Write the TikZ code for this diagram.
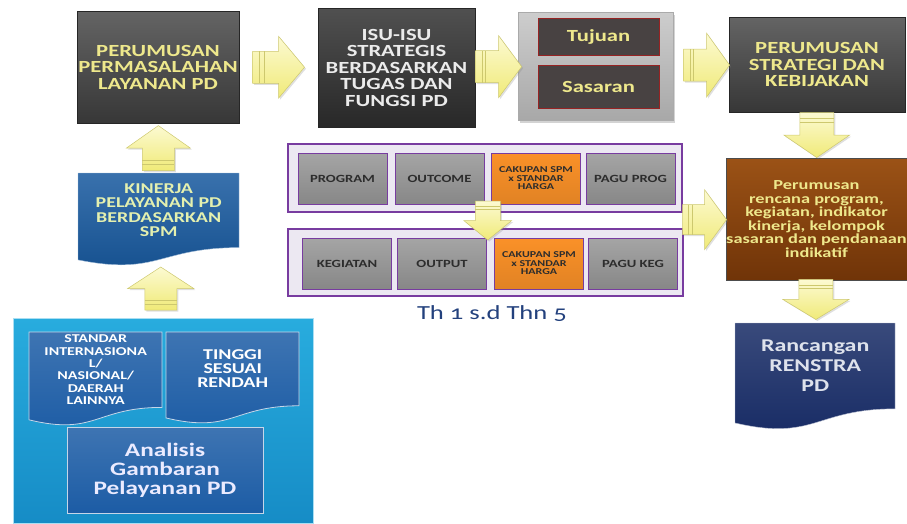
\documentclass[tikz,border=0pt]{standalone}
\usepackage{fontspec}
\setmainfont{Carlito}[FakeStretch=1.33]
\usetikzlibrary{calc,shadows}
\definecolor{ytext}{RGB}{238,232,140}
\definecolor{btext}{RGB}{235,235,235}
\definecolor{gtext}{RGB}{228,240,175}
\definecolor{ftext}{RGB}{222,226,236}
\definecolor{arrowY}{RGB}{240,234,120}
\definecolor{arrowL}{RGB}{252,250,210}
\definecolor{arrowD}{RGB}{205,200,110}
\definecolor{brownT}{RGB}{155,82,22}
\definecolor{brownB}{RGB}{112,52,8}
\definecolor{navy}{RGB}{22,42,100}
\definecolor{gblue}{RGB}{22,88,158}
\definecolor{cyanT}{RGB}{40,172,222}
\definecolor{cyanB}{RGB}{22,140,198}
\definecolor{docblue}{RGB}{28,92,165}
\definecolor{purp}{RGB}{120,60,160}
\definecolor{orng}{RGB}{250,145,40}
\definecolor{thblue}{RGB}{35,65,125}
\definecolor{redb}{RGB}{150,35,35}
\newcommand\docnode[8]{%
 \path[#6] (#2,#3) -- ++(#4,0) -- ++(0,0.802*#5) .. controls ($(#2,#3)+(0.5*#4,0.802*#5)$) and ($(#2,#3)+(0.5*#4,1.107*#5)$) .. ($(#2,#3)+(0,0.934*#5)$) -- cycle;
 \node[#7, anchor=north west, minimum width={#4*1pt}, minimum height={0.8*#5*1pt}, inner sep=0pt, align=center] (#1) at (#2,#3) {#8};
 \coordinate (#1-bot) at ($(#2,#3)+(0.5*#4,0.93*#5)$);
}
% block arrow: name, centre, angle, length, total width, shaft width
\newcommand\barrow[6]{%
 \begin{scope}[shift={#2}, rotate=#3]
  \path[arrowsty] (-0.5*#4,-0.5*#6) -- (0,-0.5*#6) -- (0,-0.5*#5) -- (0.5*#4,0) -- (0,0.5*#5) -- (0,0.5*#6) -- (-0.5*#4,0.5*#6) -- cycle;
  \draw[arrowD, line width=0.7pt] (-0.36*#4,-0.5*#6) -- (-0.36*#4,0.5*#6);
  \draw[arrowD, line width=0.7pt] (-0.28*#4,-0.5*#6) -- (-0.28*#4,0.5*#6);
 \end{scope}
 \coordinate (#1) at #2;
}
\tikzset{
 darkbox/.style={draw=black!85, top color={rgb,255:red,100;green,100;blue,100}, bottom color={rgb,255:red,55;green,55;blue,55}, align=center, inner sep=0pt, font=\bfseries\fontsize{17}{16.5}\selectfont},
 tsbox/.style={draw=redb, line width=1pt, fill={rgb,255:red,72;green,66;blue,66}, text=ytext, inner sep=0pt, font=\bfseries\fontsize{17}{16}\selectfont},
 rowframe/.style={draw=purp, line width=1.5pt, fill={rgb,255:red,236;green,232;blue,242}, inner sep=0pt},
 pbox/.style={draw=purp, line width=0.8pt, top color={rgb,255:red,165;green,165;blue,165}, bottom color={rgb,255:red,135;green,135;blue,135}, minimum width=89pt, minimum height=51pt, inner sep=0pt, align=center, text={rgb,255:red,45;green,45;blue,45}, font=\bfseries\fontsize{11}{11}\selectfont},
 obox/.style={pbox, top color=orng, bottom color=orng!90!black, font=\bfseries\fontsize{9}{8.5}\selectfont},
 arrowsty/.style={draw=arrowD, line width=0.5pt, top color=arrowL, bottom color=arrowY, drop shadow={shadow xshift=1.5pt, shadow yshift=-1.5pt, opacity=0.25}},
}
\begin{document}
\begin{tikzpicture}[x=1pt,y=-1pt]
\useasboundingbox (0,0) rectangle (907,523);
% top row
\node[darkbox, minimum width=162pt, minimum height=112pt, text=ytext] (A) at (158,67) {PERUMUSAN\\PERMASALAHAN\\LAYANAN PD};
\node[darkbox, minimum width=157pt, minimum height=119pt, text=btext, top color={rgb,255:red,80;green,80;blue,80}, bottom color={rgb,255:red,40;green,40;blue,40}] (B) at (396.5,67.5) {ISU-ISU\\STRATEGIS\\BERDASARKAN\\TUGAS DAN\\FUNGSI PD};
\node[draw={rgb,255:red,170;green,170;blue,170}, drop shadow={shadow xshift=2pt, shadow yshift=-3pt, opacity=0.35}, top color={rgb,255:red,205;green,205;blue,205}, bottom color={rgb,255:red,168;green,168;blue,168}, minimum width=155pt, minimum height=108pt, inner sep=0pt] (C) at (595.5,66) {};
\node[tsbox, minimum width=121pt, minimum height=37pt] (tuj) at (598.5,36.5) {Tujuan};
\node[tsbox, minimum width=121pt, minimum height=43pt] (sas) at (598.5,86.5) {Sasaran};
\node[darkbox, minimum width=176pt, minimum height=95pt, text=ytext] (D) at (817,64.5) {PERUMUSAN\\STRATEGI DAN\\KEBIJAKAN};
\node[draw=black!70, top color=brownT, bottom color=brownB, minimum width=181pt, minimum height=122pt, inner sep=0pt, align=center, text=ytext, font=\bfseries\fontsize{13.8}{13.6}\selectfont] (E) at (816.5,219) {Perumusan\\rencana program,\\kegiatan, indikator\\kinerja, kelompok\\sasaran dan pendanaan\\indikatif};
\docnode{F}{735}{323}{160}{107}{top color=navy!85!white, bottom color=navy, draw=white!70!navy}{text=ftext, font=\bfseries\fontsize{18}{20}\selectfont}{Rancangan\\RENSTRA\\PD}
% program rows
\node[rowframe, minimum width=394pt, minimum height=68pt] (row1) at (485,178) {};
\node[rowframe, minimum width=395pt, minimum height=67pt] (row2) at (485.5,262.5) {};
\node[pbox] (prog) at (342.5,178.5) {PROGRAM};
\node[pbox] (outc) at (439.5,178.5) {OUTCOME};
\node[obox] (cak1) at (536,178.5) {CAKUPAN SPM\\x STANDAR\\HARGA};
\node[pbox] (pagp) at (630.5,178.5) {PAGU PROG};
\node[pbox] (keg) at (347,263.5) {KEGIATAN};
\node[pbox] (outp) at (442,263.5) {OUTPUT};
\node[obox] (cak2) at (539,263.5) {CAKUPAN SPM\\x STANDAR\\HARGA};
\node[pbox] (pagk) at (633,263.5) {PAGU KEG};
\node[text=thblue, font=\fontsize{20}{20}\selectfont\addfontfeatures{Numbers=OldStyle}] (th) at (492,314) {Th 1 s.d Thn 5};
% left column
\docnode{G}{78}{173}{161}{93}{top color=gblue!85!white, bottom color=gblue!90!black, draw=white!60!gblue}{text=gtext, font=\bfseries\fontsize{15}{14.5}\selectfont}{KINERJA\\PELAYANAN PD\\BERDASARKAN\\SPM}
\node[draw=white!60!cyanT, line width=1pt, top color=cyanT, bottom color=cyanB, minimum width=300pt, minimum height=205pt, inner sep=0pt] (H) at (163,420.5) {};
\docnode{s1}{29}{332}{133}{94}{top color=docblue!85!white, bottom color=docblue, draw=white!75!docblue, line width=0.8pt}{text=white, font=\bfseries\fontsize{12}{12.4}\selectfont}{STANDAR\\INTERNASIONA\\L/\\NASIONAL/\\DAERAH\\LAINNYA}
\docnode{s2}{166}{332}{133}{92}{top color=docblue!85!white, bottom color=docblue, draw=white!75!docblue, line width=0.8pt}{text=white, font=\bfseries\fontsize{15}{14}\selectfont}{TINGGI\\SESUAI\\RENDAH}
\node[draw=white!75!docblue, line width=1pt, top color=docblue!85!white, bottom color=docblue, minimum width=196pt, minimum height=86pt, inner sep=0pt, align=center, text=white!92!blue, font=\bfseries\fontsize{19}{19}\selectfont] (an) at (165,470) {Analisis\\Gambaran\\Pelayanan PD};
% block arrows
\barrow{ar1}{($(A.east)!0.5!(B.west)$)}{0}{52}{62}{32}
\barrow{ar2}{($(B.east)!0.55!(C.west)$)}{0}{46}{62}{32}
\barrow{ar3}{($(C.east)!0.6!(D.west)$)}{0}{46}{64}{32}
\barrow{ad1}{($(D.south)!0.5!(E.north)$)}{-90}{45}{66}{34}
\barrow{ad2}{($(E.south)!0.45!(F.north)$)}{-90}{40}{66}{34}
\coordinate (rowsE) at ($(row1.east)!0.5!(row2.east)$);
\barrow{ar4}{($(rowsE)!0.5!(E.west)$)}{0}{44}{60}{30}
\barrow{au1}{($(G.north)!0.5!(A.south)$)}{90}{45}{64}{32}
\barrow{au2}{($(G-bot)!0.5!(H.north)$)}{90}{43}{66}{32}
\coordinate (m1) at ($(outc.east)!0.5!(cak1.west)$);
\coordinate (m2) at ($(row1.south)!0.5!(row2.north)$);
\barrow{ad3}{(m1 |- m2)}{-90}{39}{48}{25}
\end{tikzpicture}
\end{document}
